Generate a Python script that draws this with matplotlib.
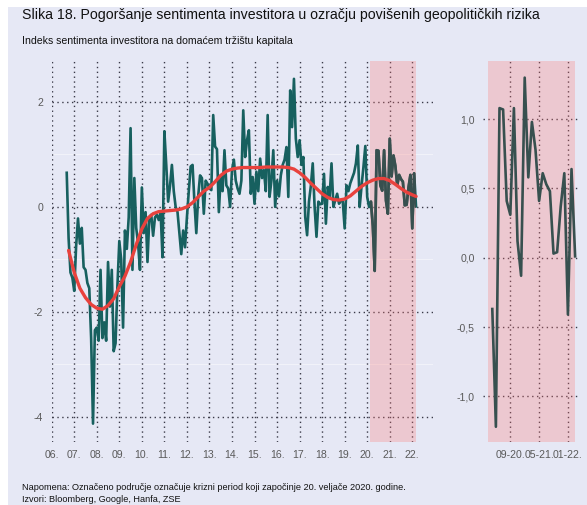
import numpy as np
import matplotlib
matplotlib.use("Agg")
import matplotlib.pyplot as plt
from matplotlib.patches import Rectangle

plt.rcParams['font.family'] = ['Liberation Sans', 'DejaVu Sans']

# mjesecni indeks, rujan 2006. - ozujak 2020.
pre_crisis = [
    0.65, -0.6, -1.25, -1.35,
    -1.6, -0.75, -0.22, -0.7, -0.4, -1.15, -1.2, -1.45, -1.55, -2.5, -4.13, -2.35,
    -2.3, -2.55, -1.2, -2.5, -2.2, -2.55, -1.05, -1.9, -1.2, -2.75, -2.6, -1.5,
    -0.65, -1.0, -2.3, -0.45, -0.8, -0.2, 1.5, -1.2, 0.55, -0.4, -0.7, -1.2,
    0.37, -0.5, -0.1, -1.05, -0.2, -0.15, -0.55, -0.2, -0.15, -0.25, -0.1, -0.96,
    1.44, 0.8, 0.1, 0.4, 0.8, 0.3, 0.0, -0.1, -0.5, -0.9, -0.45, -0.77,
    -0.2, 0.3, 0.77, 0.8, 0.1, -0.5, 0.2, 0.6, 0.55, -0.13, 0.5, 0.44,
    0.35, 0.32, 1.75, 1.15, 1.1, -0.1, 0.57, 0.3, 1.08, 0.41, 0.35, 0.0,
    0.7, 0.9, 0.5, 0.35, 0.25, 0.5, 1.84, 0.95, 1.27, 1.46, 0.25, 0.57,
    0.06, 0.67, 0.3, 0.92, 0.55, 0.7, 0.3, 1.75, 0.19, 0.5, 1.08, 0.0,
    0.5, 0.2, 0.6, 0.8, 0.9, 1.14, 0.19, 2.22, 1.52, 2.44, 1.3, 0.95,
    1.27, 0.8, 0.95, -0.19, -0.54, 0.1, 0.4, 0.83, 0.0, -0.57, 0.1, 0.05,
    0.06, 0.63, -0.32, 0.38, 0.2, 0.83, 0.0, 0.13, 0.25, 0.06, 0.12, 0.1,
    -0.41, 0.41, 0.3, 0.45, 0.55, 0.65, 0.83, 1.17, 0.0, 0.4, 0.76, 1.16,
    0.19, 0.0, 0.1,
]
# travanj 2020. - ozujak 2022.
crisis = [-0.37, -1.22, 1.08, 1.07, 0.41, 0.31, 1.08, 0.12, -0.13, 1.30, 0.58, 0.98,
          0.78, 0.41, 0.61, 0.53, 0.48, 0.03, 0.04, 0.37, 0.61, -0.41, 0.64, 0.01]

# trend, kvartalno od 2006.75
trend = [-0.83, -1.25, -1.55, -1.73, -1.86, -1.93, -1.95, -1.88, -1.75,
         -1.52, -1.32, -1.05, -0.72, -0.42, -0.22, -0.13, -0.09, -0.08, -0.07,
         -0.06, -0.04, 0.0, 0.08, 0.19, 0.30, 0.37, 0.48, 0.60, 0.68, 0.72,
         0.74, 0.75, 0.75, 0.75, 0.75, 0.76, 0.76, 0.76, 0.76, 0.75, 0.72,
         0.65, 0.56, 0.45, 0.35, 0.25, 0.18, 0.14, 0.13, 0.15, 0.21, 0.30,
         0.39, 0.46, 0.51, 0.54, 0.54, 0.50, 0.43, 0.35, 0.28, 0.23, 0.20]
trend_t = list(2006.75 + 0.25 * np.arange(len(trend) - 1)) + [2022.17]

year_labels = ['06.', '07.', '08.', '09.', '10.', '11.', '12.', '13.', '14.',
               '15.', '16.', '17.', '18.', '19.', '20.', '21.', '22.']
zoom_ticks = [5, 13, 21]
zoom_labels = ['09-20.', '05-21.', '01-22.']

TEAL = '#17605F'
SLATE = '#37504F'
RED = '#E8423D'
SHADE = (1.0, 0.46, 0.44, 0.28)
BG = '#E6E8F5'
GRID = '#3A3A48'
TXT = '#5A5A5A'
W, H = 587, 505

series = pre_crisis + crisis
t = 2006 + 8 / 12 + np.arange(len(series)) / 12

fig = plt.figure(figsize=(W / 100, H / 100), dpi=100)
fig.patch.set_facecolor('white')
fig.add_artist(Rectangle((8 / W, 0), 1, 1 - 7 / H, transform=fig.transFigure,
                         facecolor=BG, edgecolor='none', zorder=-10))

fig.text(22 / W, 1 - 15 / H,
         'Slika 18. Pogoršanje sentimenta investitora u ozračju povišenih geopolitičkih rizika',
         fontsize=10.2, va='center', color='#111111')
fig.text(22 / W, 1 - 41 / H, 'Indeks sentimenta investitora na domaćem tržištu kapitala',
         fontsize=7.6, va='center', color='#111111')
fig.text(22 / W, 1 - 488 / H,
         'Napomena: Označeno područje označuje krizni period koji započinje 20. veljače 2020. godine.',
         fontsize=6.6, va='center', color='#111111')
fig.text(22 / W, 1 - 499 / H, 'Izvori: Bloomberg, Google, Hanfa, ZSE',
         fontsize=6.6, va='center', color='#111111')

bottom = 1 - 442 / H
height = (442 - 61) / H

# glavni graf
ax = fig.add_axes([51.7 / W, bottom, (433 - 51.7) / W, height])
ax.set_facecolor('none')
ax.set_xlim(2006, 2022.92)
ax.set_ylim(-4.48, 2.78)
for y in [1, -1, -3]:
    ax.axhline(y, color='white', lw=0.8, alpha=0.45, zorder=0)
for y in [2, 0, -2, -4]:
    ax.axhline(y, color=GRID, lw=1.0, ls=(0, (1, 2.5)), zorder=1)
years = np.arange(2006, 2023)
for x in years:
    ax.axvline(x, color=GRID, lw=1.0, ls=(0, (1, 2.5)), zorder=1)
ax.plot(t, series, color=TEAL, lw=1.9, zorder=2)
span = ax.axvspan(2020.13, 2022.17, color=SHADE, lw=0, zorder=3)
# dio linije u kriznom razdoblju
crisis_line, = ax.plot(t, series, color=SLATE, lw=1.9, zorder=3.5)
crisis_line.set_clip_path(span)
ax.plot(trend_t, trend, color=RED, lw=2.4, zorder=4, solid_capstyle='round')
ax.set_xticks(years)
ax.set_xticklabels(year_labels)
ax.set_yticks([2, 0, -2, -4])
ax.set_yticklabels(['2', '0', '-2', '-4'])
ax.tick_params(length=0, labelsize=7.6, colors=TXT, pad=6)
for s in ax.spines.values():
    s.set_visible(False)

# krizno razdoblje
ax2 = fig.add_axes([483 / W, bottom, 95 / W, height])
ax2.set_facecolor('none')
ax2.set_xlim(-2.58, 23.8)
ax2.set_ylim(-1.33, 1.42)
for y in [1.0, 0.5, 0.0, -0.5, -1.0]:
    ax2.axhline(y, color=GRID, lw=1.0, ls=(0, (1, 2.5)), zorder=1)
for x in zoom_ticks:
    ax2.axvline(x, color=GRID, lw=1.0, ls=(0, (1, 2.5)), zorder=1)
ax2.axvspan(-1.19, 23.0, color=SHADE, lw=0, zorder=2)
ax2.plot(np.arange(len(crisis)), crisis, color=SLATE, lw=1.9, zorder=3)
ax2.set_xticks(zoom_ticks)
ax2.set_xticklabels(zoom_labels)
ax2.set_yticks([1.0, 0.5, 0.0, -0.5, -1.0])
ax2.set_yticklabels(['1,0', '0,5', '0,0', '-0,5', '-1,0'])
ax2.tick_params(length=0, labelsize=7.6, colors=TXT, pad=6)
for s in ax2.spines.values():
    s.set_visible(False)

fig.savefig('out.png', dpi=100, facecolor=fig.get_facecolor())
